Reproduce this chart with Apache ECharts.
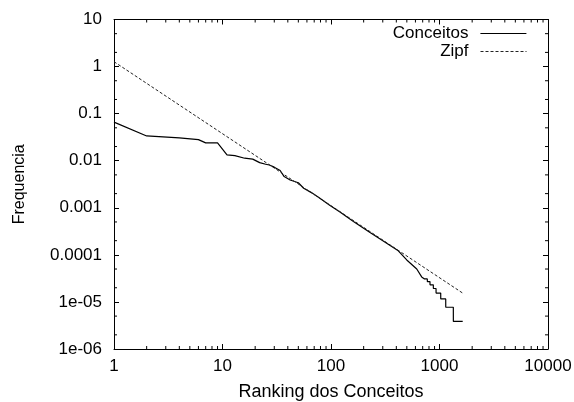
<!DOCTYPE html>
<html>
<head>
<meta charset="utf-8">
<script src="https://cdn.jsdelivr.net/npm/echarts@6/dist/echarts.min.js"></script>
<style>
  html, body { margin: 0; padding: 0; background: #fff; }
  #chart { width: 574px; height: 402px; }
</style>
</head>
<body>
<div id="chart"></div>
<script>
// data (log-log)
const conceitosRank = [1, 2, 4, 6, 7, 9, 11, 13, 16, 19, 22, 25, 27, 30, 34, 37, 42, 50, 56, 66,
  79, 98, 120, 161, 229, 326, 417, 499, 617, 685, 727, 772, 773, 817, 818, 877, 878, 929, 930, 1026,
  1027, 1141, 1142, 1341, 1342, 1636];
const conceitosFreq = [0.066, 0.0336, 0.0305, 0.028, 0.0239, 0.0239, 0.0133, 0.0128, 0.0113, 0.0108,
  0.0091, 0.0084, 0.0081, 0.0073, 0.0062, 0.0046, 0.0039, 0.0034, 0.0026, 0.0021,
  0.0016, 0.00112, 0.00082, 0.00051, 0.000297, 0.000177, 0.000122, 0.000078, 0.00005, 0.000034,
  3.08e-5, 3.08e-5, 2.70e-5, 2.70e-5, 2.31e-5, 2.31e-5, 1.93e-5, 1.93e-5, 1.54e-5, 1.54e-5,
  1.16e-5, 1.16e-5, 7.7e-6, 7.7e-6, 3.85e-6, 3.85e-6];
const zipfRank = [1, 1636];
const zipfFreq = [1.27, 1.54e-5];

const xTickLabels = ["1", "10", "100", "1000", "10000"];
const yTickLabels = ["1e-06", "1e-05", "0.0001", "0.001", "0.01", "0.1", "1", "10"];
const xMinorSteps = [2, 3, 4, 5, 6, 7, 8, 9];
const yMinorSteps = [2, 5];

const X_MIN = 1, X_MAX = 10000, Y_MIN = 1e-6, Y_MAX = 10;
const FONT = "'Liberation Sans', Arial, sans-serif";

function minorValues(steps, lo, hi) {
  const out = [];
  for (let e = Math.round(Math.log10(lo)); e < Math.round(Math.log10(hi)); e++) {
    steps.forEach((s) => out.push(s * Math.pow(10, e)));
  }
  return out;
}

function minorTicks(values, dir, len) {
  return {
    type: "custom",
    silent: true,
    clip: false,
    data: values.map((v) => (dir === "x" ? [v, 1] : [1, v])),
    renderItem(params, api) {
      const style = { stroke: "#000", lineWidth: 1 };
      if (dir === "x") {
        const v = api.value(0);
        const b = api.coord([v, Y_MIN]);
        const t = api.coord([v, Y_MAX]);
        return {
          type: "group",
          children: [
            { type: "line", shape: { x1: b[0], y1: b[1], x2: b[0], y2: b[1] - len }, style },
            { type: "line", shape: { x1: t[0], y1: t[1], x2: t[0], y2: t[1] + len }, style },
          ],
        };
      }
      const v = api.value(1);
      const l = api.coord([X_MIN, v]);
      const r = api.coord([X_MAX, v]);
      return {
        type: "group",
        children: [
          { type: "line", shape: { x1: l[0], y1: l[1], x2: l[0] + len, y2: l[1] }, style },
          { type: "line", shape: { x1: r[0], y1: r[1], x2: r[0] - len, y2: r[1] }, style },
        ],
      };
    },
  };
}

const chart = echarts.init(document.getElementById("chart"));

const axisLine = { show: true, onZero: false, lineStyle: { color: "#000", width: 1 } };
const majorTick = { show: true, inside: true, length: 5, lineStyle: { color: "#000" } };

const legendCommon = {
  orient: "horizontal",
  align: "right",
  right: 47,
  padding: 0,
  itemWidth: 46,
  itemHeight: 14,
  selectedMode: false,
  itemStyle: { opacity: 0 },
  textStyle: { fontFamily: FONT, fontSize: 17, color: "#000", padding: [0, 7, 0, 0] },
};

chart.setOption({
  animation: false,
  backgroundColor: "#fff",
  textStyle: { fontFamily: FONT },
  grid: { left: 114, right: 26, top: 19.5, bottom: 53, outerBoundsMode: "none" },
  legend: [
    Object.assign({}, legendCommon, {
      top: 25,
      data: ["Conceitos"],
      lineStyle: { width: 1.2, color: "#000" },
    }),
    Object.assign({}, legendCommon, {
      top: 43,
      data: ["Zipf"],
      lineStyle: { width: 1, color: "#222", type: [3, 2] },
    }),
  ],
  xAxis: [
    {
      type: "log",
      logBase: 10,
      min: X_MIN,
      max: X_MAX,
      position: "bottom",
      name: "Ranking dos Conceitos",
      nameLocation: "middle",
      nameGap: 34,
      nameTextStyle: { fontFamily: FONT, fontSize: 18, color: "#000" },
      axisLine,
      axisTick: majorTick,
      splitLine: { show: false },
      axisLabel: {
        margin: 9,
        fontFamily: FONT,
        fontSize: 17,
        color: "#000",
        formatter: (v) => xTickLabels[Math.round(Math.log10(v))],
      },
    },
    {
      type: "log",
      logBase: 10,
      min: X_MIN,
      max: X_MAX,
      position: "top",
      axisLine,
      axisTick: majorTick,
      splitLine: { show: false },
      axisLabel: { show: false },
    },
  ],
  yAxis: [
    {
      type: "log",
      logBase: 10,
      min: Y_MIN,
      max: Y_MAX,
      interval: 1,
      position: "left",
      name: "Frequencia",
      nameLocation: "middle",
      nameGap: 86,
      nameTextStyle: { fontFamily: FONT, fontSize: 16, color: "#000" },
      axisLine,
      axisTick: majorTick,
      splitLine: { show: false },
      axisLabel: {
        margin: 12,
        fontFamily: FONT,
        fontSize: 17,
        color: "#000",
        formatter: (v) => yTickLabels[Math.round(Math.log10(v)) + 6],
      },
    },
    {
      type: "log",
      logBase: 10,
      min: Y_MIN,
      max: Y_MAX,
      interval: 1,
      position: "right",
      axisLine,
      axisTick: majorTick,
      splitLine: { show: false },
      axisLabel: { show: false },
    },
  ],
  series: [
    {
      name: "Conceitos",
      type: "line",
      symbol: "none",
      lineStyle: { color: "#000", width: 1.2 },
      itemStyle: { color: "#000" },
      data: conceitosRank.map((r, i) => [r, conceitosFreq[i]]),
    },
    {
      name: "Zipf",
      type: "line",
      symbol: "none",
      lineStyle: { color: "#222", width: 1, type: [3, 2] },
      itemStyle: { color: "#222" },
      data: zipfRank.map((r, i) => [r, zipfFreq[i]]),
    },
    minorTicks(minorValues(xMinorSteps, X_MIN, X_MAX), "x", 3),
    minorTicks(minorValues(yMinorSteps, Y_MIN, Y_MAX), "y", 3),
  ],
});
</script>
</body>
</html>
